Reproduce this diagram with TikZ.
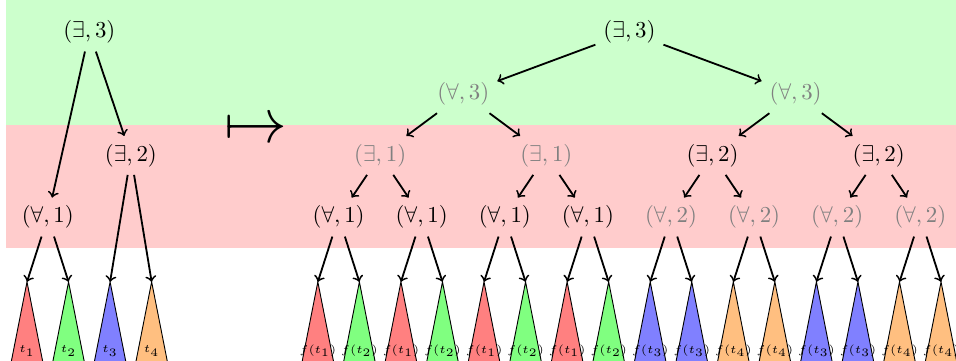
\documentclass[tikz,border=0pt]{standalone}
\usepackage{amsmath}
\usepackage{tikz}
\usetikzlibrary{arrows,positioning,calc}

\begin{document}
\begin{tikzpicture}[x=0.64cm, y=0.95cm,
        edge/.style={->, thick},
        dim/.style={text=gray},
        subtree/.style={draw, line width=0.4pt}]
        \useasboundingbox (-0.65,-1.32) rectangle (22.36,4.52);

        % Rank bands
        \fill[green!20] (-0.5,2.5) rectangle (22.36,4.52);
        \fill[red!20] (-0.5,0.5) rectangle (22.36,2.5);

        % Leaf subtrees
        \foreach \k/\c/\t in {0/red/t_1, 1/green/t_2, 2/blue/t_3, 3/orange/t_4,
                7/red/f(t_1), 8/green/f(t_2), 9/red/f(t_1), 10/green/f(t_2),
                11/red/f(t_1), 12/green/f(t_2), 13/red/f(t_1), 14/green/f(t_2),
                15/blue/f(t_3), 16/blue/f(t_3), 17/orange/f(t_4), 18/orange/f(t_4),
                19/blue/f(t_3), 20/blue/f(t_3), 21/orange/f(t_4), 22/orange/f(t_4)} {
            \coordinate (t\k) at (\k,-0.05);
            \draw[subtree, fill=\c!50] (t\k) -- (\k-0.395,-1.4) -- (\k+0.395,-1.4) -- cycle;
            \node[font=\tiny, inner sep=0pt] (lab\k) at (\k,-1.17) {$\t$};
        }

        % Original tree
        \node (a3) at (1.5,4) {$(\exists,3)$};
        \node (a2) at (2.5,2) {$(\exists,2)$};
        \node (a1) at (0.5,1) {$(\forall,1)$};
        \foreach \p/\q in {a3/a1, a3/a2, a1/t0, a1/t1, a2/t2, a2/t3}
            \draw[edge] (\p) -- (\q);

        % Map
        \node (map) at (5.5,2.4) {\scalebox{2.75}{$\mapsto$}};

        % Unfolded tree
        \node (b) at (14.5,4) {$(\exists,3)$};
        \node[dim] (b1) at (10.5,3) {$(\forall,3)$};
        \node[dim] (b2) at (18.5,3) {$(\forall,3)$};
        \node[dim] (c1) at (8.5,2) {$(\exists,1)$};
        \node[dim] (c2) at (12.5,2) {$(\exists,1)$};
        \node (c3) at (16.5,2) {$(\exists,2)$};
        \node (c4) at (20.5,2) {$(\exists,2)$};
        \foreach \i/\s/\n in {1/black/1, 2/black/1, 3/black/1, 4/black/1,
                5/gray/2, 6/gray/2, 7/gray/2, 8/gray/2}
            \node[text=\s] (d\i) at ({5.5+2*\i},1) {$(\forall,\n)$};

        \foreach \p/\q in {b/b1, b/b2, b1/c1, b1/c2, b2/c3, b2/c4,
                c1/d1, c1/d2, c2/d3, c2/d4, c3/d5, c3/d6, c4/d7, c4/d8,
                d1/t7, d1/t8, d2/t9, d2/t10, d3/t11, d3/t12, d4/t13, d4/t14,
                d5/t15, d5/t16, d6/t17, d6/t18, d7/t19, d7/t20, d8/t21, d8/t22}
            \draw[edge] (\p) -- (\q);
\end{tikzpicture}
\end{document}
